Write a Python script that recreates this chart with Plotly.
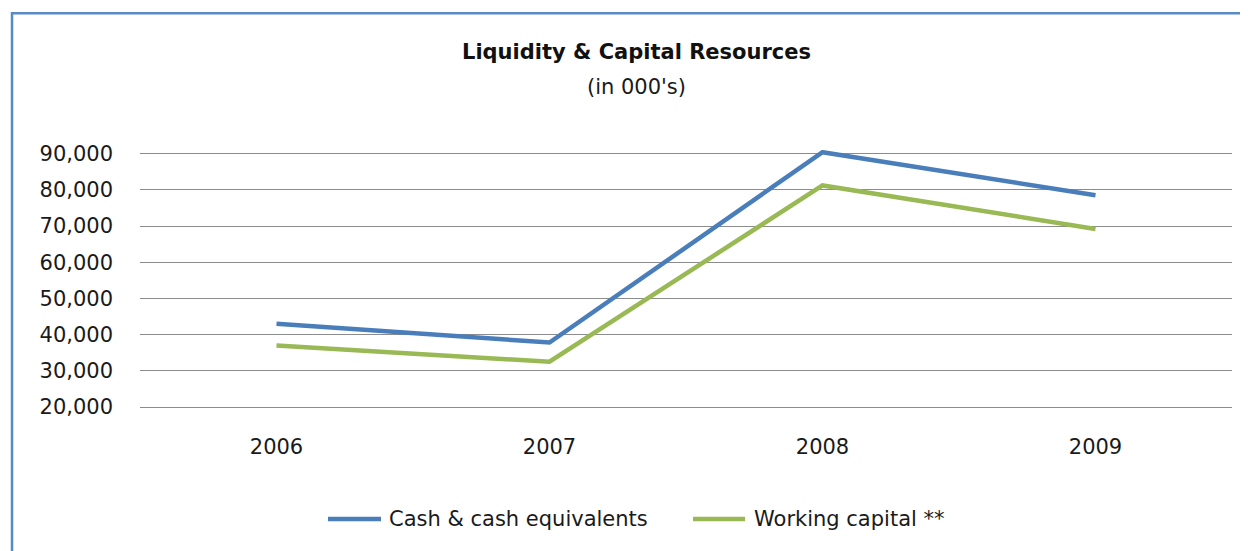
import plotly.graph_objects as go

years = ["2006", "2007", "2008", "2009"]
cash = [43000, 37800, 90400, 78500]
working_capital = [37000, 32500, 81200, 69200]
y_labels_all = [20000, 30000, 40000, 50000, 60000, 70000, 80000, 90000]
series_names = ["Cash & cash equivalents", "Working capital **"]
series_colors = ["#4A7EBB", "#98B954"]

# page has an 8px body margin; figure is sized so it fills the 1248x551 window
W, H = 1240, 543
Y_MIN, Y_MAX = 20000, 91000
PL, PR, PB = 140, 1232, 407                       # plot area in window pixels
PX_PER_UNIT = (407 - 153.4) / 70000.0
PT = PB - (Y_MAX - Y_MIN) * PX_PER_UNIT
PW, PH = PR - PL, PB - PT

def px_x(x):
    return (x - PL) / PW

def px_y(y):
    return (PB - y) / PH

FONT = "DejaVu Sans"
GRID = "#8c8c8c"
TXT = "#1a1a1a"

fig = go.Figure()
for name, vals, col in zip(series_names, [cash, working_capital], series_colors):
    fig.add_trace(go.Scatter(x=years, y=vals, mode="lines", name=name,
                             line=dict(color=col, width=4.5), showlegend=False))

# legend drawn in Excel style (long line sample + label)
legend_items = [(328, 381, 387), (693, 745, 752)]
shapes = [
    dict(type="rect", xref="paper", yref="paper", x0=px_x(12), y0=px_y(620),
         x1=px_x(1300), y1=px_y(13), line=dict(color="#5A8AC6", width=2.5),
         fillcolor="rgba(0,0,0,0)", layer="below"),
]
annotations = [
    dict(text="<b>Liquidity & Capital Resources</b>", xref="paper", yref="paper",
         x=px_x(636), y=px_y(52), xanchor="center", yanchor="middle", showarrow=False,
         font=dict(size=21, family=FONT, color="#111111")),
    dict(text="(in 000's)", xref="paper", yref="paper",
         x=px_x(636), y=px_y(87), xanchor="center", yanchor="middle", showarrow=False,
         font=dict(size=21, family=FONT, color=TXT)),
]
for (x0, x1, xt), name, col in zip(legend_items, series_names, series_colors):
    shapes.append(dict(type="line", xref="paper", yref="paper", x0=px_x(x0), x1=px_x(x1),
                       y0=px_y(519), y1=px_y(519), line=dict(color=col, width=4.5)))
    annotations.append(dict(text=name, xref="paper", yref="paper", x=px_x(xt), y=px_y(519),
                            xanchor="left", yanchor="middle", showarrow=False,
                            font=dict(size=21, family=FONT, color=TXT)))

fig.update_layout(
    width=W, height=H,
    margin=dict(l=PL - 8, r=W - (PR - 8), t=PT - 8, b=H - (PB - 8)),
    paper_bgcolor="white", plot_bgcolor="white",
    font=dict(family=FONT, color=TXT),
    showlegend=False,
    xaxis=dict(type="category", range=[-0.5, 3.5], showgrid=False, showline=True,
               linecolor=GRID, linewidth=1, ticks="", tickfont=dict(size=21, family=FONT),
               ticklabelstandoff=21, zeroline=False, fixedrange=True),
    yaxis=dict(range=[Y_MIN, Y_MAX], tickmode="array", tickvals=y_labels_all,
               tickformat=",", showgrid=True,
               gridcolor=GRID, gridwidth=1, zeroline=False, showline=False,
               ticks="", tickfont=dict(size=21, family=FONT), ticklabelstandoff=26,
               fixedrange=True),
    annotations=annotations,
    shapes=shapes,
)

fig.write_html("out.html")
